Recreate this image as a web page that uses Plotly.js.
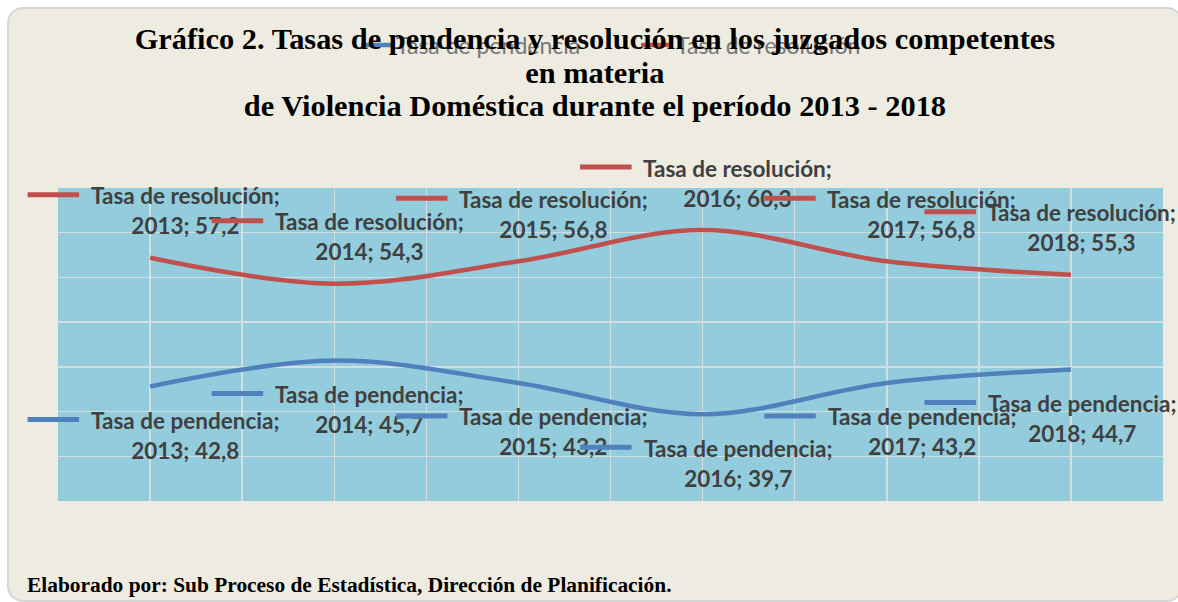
<!DOCTYPE html>
<html><head><meta charset="utf-8">
<script src="https://cdn.plot.ly/plotly-3.0.1.min.js"></script>
<style>
html,body{margin:0;padding:0;background:#fff;width:1178px;height:602px;overflow:hidden}
#box{position:absolute;left:7px;top:7px;width:1172px;height:591px;background:#EEEBE0;border:2px solid #D6D6D6;border-radius:16px;}
#chart{position:absolute;left:0;top:0;width:1178px;height:602px}
</style></head><body>
<div id="box"></div><div id="chart"></div>
<script>
// ---- data ----
const years = [2013, 2014, 2015, 2016, 2017, 2018];
const tasaPendencia = [42.8, 45.7, 43.2, 39.7, 43.2, 44.7];
const tasaResolucion = [57.2, 54.3, 56.8, 60.3, 56.8, 55.3];
const seriesNames = ['Tasa de pendencia', 'Tasa de resolución'];
const titleLines = [
  'Gráfico 2. Tasas de pendencia y resolución en los juzgados competentes',
  'en materia',
  'de Violencia Doméstica durante el período 2013 - 2018'
];
const footerText = 'Elaborado por: Sub Proceso de Estadística, Dirección de Planificación.';

// ---- styles ----
const RED = '#C0504D', BLUE = '#4F81BD';
const LABEL_COLOR = '#404040';
const labelFont = 'Lato, "Liberation Sans", sans-serif';
const series = [
  {name: seriesNames[0], values: tasaPendencia, color: BLUE, labelShift: -49, keyShift: -33},
  {name: seriesNames[1], values: tasaResolucion, color: RED, labelShift: 47, keyShift: 63}
];
const LABEL_DX = 35, KEY_X0 = -124, KEY_X1 = -71, LAST_SHIFT = -24;

const fmt = v => v.toFixed(1).replace('.', ',');

const traces = series.map(s => ({
  x: years, y: s.values, name: s.name, type: 'scatter', mode: 'lines',
  line: {color: s.color, width: 4.5, shape: 'spline', smoothing: 1},
  hoverinfo: 'skip'
}));

const annotations = [];
series.forEach(s => {
  years.forEach((yr, i) => {
    const extra = (i === years.length - 1) ? LAST_SHIFT : 0;
    // label text
    annotations.push({
      x: yr, y: s.values[i], xref: 'x', yref: 'y', showarrow: false,
      xanchor: 'center', yanchor: 'middle',
      xshift: LABEL_DX + extra, yshift: s.labelShift,
      text: '<span style="font-size:22.5px">' + s.name + ';</span><br><span style="font-size:22.5px">' + yr + '; ' + fmt(s.values[i]) + '</span>',
      font: {family: labelFont, size: 23, color: LABEL_COLOR, weight: 'bold'},
      align: 'center'
    });
    // legend key of the label (a short line drawn as an arrow without head)
    annotations.push({
      x: yr, y: s.values[i], xref: 'x', yref: 'y', text: '',
      showarrow: true, arrowhead: 0, arrowwidth: 5, arrowcolor: s.color,
      axref: 'pixel', ayref: 'pixel', ax: KEY_X0 - KEY_X1, ay: 0,
      xshift: KEY_X1 + extra, yshift: s.keyShift, standoff: 0, startstandoff: 0
    });
  });
});

annotations.push({
  text: footerText, xref: 'paper', yref: 'paper', x: -0.03, y: -0.268,
  xanchor: 'left', yanchor: 'middle', showarrow: false,
  font: {family: '"Liberation Serif", serif', size: 21.4, color: '#000', weight: 'bold'}
});

const layout = {
  width: 1178, height: 602,
  paper_bgcolor: 'rgba(0,0,0,0)', plot_bgcolor: '#93CDDD',
  margin: {l: 58, r: 15, t: 188, b: 101},
  title: {
    text: titleLines.map(t => '<span style="font-size:30.4px">' + t + '</span>').join('<br>'),
    font: {family: '"Liberation Serif", serif', size: 25.8, color: '#000', weight: 'bold'},
    xref: 'container', yref: 'container', x: 0.505, xanchor: 'center', y: 1 - 49/602, yanchor: 'top'
  },
  showlegend: true,
  legend: {
    orientation: 'h', xref: 'container', yref: 'container',
    x: 356/1178, xanchor: 'left', y: 1 - 45/602, yanchor: 'middle',
    bgcolor: 'rgba(0,0,0,0)', font: {family: labelFont, size: 23, color: '#777777'},
    entrywidth: 235, entrywidthmode: 'pixels'
  },
  xaxis: {
    type: 'linear', range: [2012.5, 2018.5], tick0: 2012.5, dtick: 0.5,
    showticklabels: false, ticks: '', showgrid: true, gridcolor: '#D3DEE1', gridwidth: 1.5,
    zeroline: false, showline: false, fixedrange: true
  },
  yaxis: {
    range: [30, 65], tick0: 30, dtick: 5, showticklabels: false, ticks: '',
    showgrid: true, gridcolor: '#D3DEE1', gridwidth: 1.5, zeroline: false, showline: false, fixedrange: true
  },
  annotations: annotations
};

Plotly.newPlot('chart', traces, layout, {displayModeBar: false, staticPlot: true});
</script>
</body></html>
